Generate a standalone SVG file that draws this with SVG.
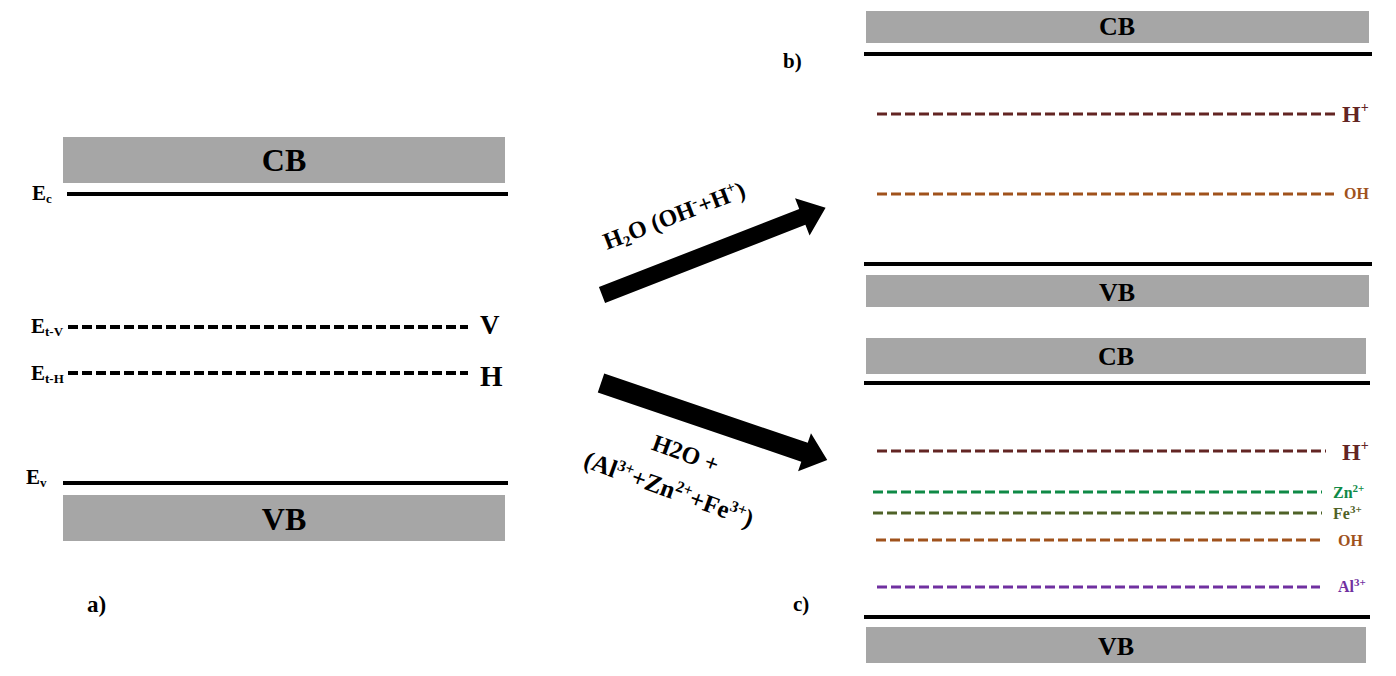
<svg xmlns="http://www.w3.org/2000/svg" width="1396" height="676" viewBox="0 0 1396 676" font-family="'Liberation Serif', serif">
<style>
text{font-family:'Liberation Serif',serif;font-weight:700;}
.band{fill:#a6a6a6;}
.edge{stroke:#000;stroke-width:4;}
.lvl{stroke-width:3;stroke-dasharray:10 4;fill:none;}
.blk{stroke:#000;stroke-width:4;}
.big{font-size:32px;text-anchor:middle;}
.mid{font-size:26px;text-anchor:middle;}
</style>
<rect width="1396" height="676" fill="#fff"/>
<g id="panel-a">
  <g id="a-cb"><rect class="band" x="63" y="137" width="442" height="46"/><text class="big" x="284" y="171">CB</text></g>
  <line class="edge" x1="67" y1="194" x2="508" y2="194"/>
  <text x="32" y="200" font-size="21">E<tspan font-size="13" dy="3">c</tspan></text>
  <g id="a-etv"><line class="lvl blk" x1="68" y1="327" x2="468" y2="327"/>
  <text x="31" y="333" font-size="21">E<tspan font-size="13" dy="3">t-V</tspan></text>
  <text x="480" y="334" font-size="27">V</text></g>
  <g id="a-eth"><line class="lvl blk" x1="68" y1="373" x2="468" y2="373"/>
  <text x="31" y="380" font-size="21">E<tspan font-size="13" dy="3">t-H</tspan></text>
  <text x="480" y="386" font-size="29">H</text></g>
  <line class="edge" x1="63" y1="483" x2="508" y2="483"/>
  <text x="26" y="484" font-size="21">E<tspan font-size="13" dy="3">v</tspan></text>
  <g id="a-vb"><rect class="band" x="63" y="495" width="442" height="46"/><text class="big" x="284" y="530">VB</text></g>
  <text x="87" y="612" font-size="23">a)</text>
</g>
<g id="connectors">
  <g id="arrow1" transform="translate(602,295) rotate(-21.3)">
    <polygon points="0,-8.5 215,-8.5 215,-20 240,0 215,20 215,8.5 0,8.5" fill="#000"/>
  </g>
  <text transform="translate(677,223) rotate(-21)" font-size="24" text-anchor="middle">H<tspan font-size="15" dy="4">2</tspan><tspan dy="-4">O (OH</tspan><tspan font-size="15" dy="-9">-</tspan><tspan dy="9">+H</tspan><tspan font-size="15" dy="-9">+</tspan><tspan dy="9">)</tspan></text>
  <g id="arrow2" transform="translate(601,383) rotate(18.8)">
    <polygon points="0,-10 215,-10 215,-20 239,0 215,20 215,10 0,10" fill="#000"/>
  </g>
  <text transform="translate(683,461) rotate(20)" font-size="24" text-anchor="middle">H2O +</text>
  <text transform="translate(666,497) rotate(20)" font-size="25" text-anchor="middle">(Al<tspan font-size="16" dy="-9">3+</tspan><tspan dy="9">+Zn</tspan><tspan font-size="16" dy="-9">2+</tspan><tspan dy="9">+Fe</tspan><tspan font-size="16" dy="-9">3+</tspan><tspan dy="9">)</tspan></text>
</g>
<g id="panel-b">
  <g id="b-cb"><rect class="band" x="866" y="11" width="503" height="32"/><text class="mid" x="1117" y="35">CB</text></g>
  <line class="edge" x1="864" y1="54" x2="1372" y2="54"/>
  <text x="783" y="68" font-size="21">b)</text>
  <g id="b-h"><line class="lvl" stroke="#632523" x1="877" y1="114" x2="1336" y2="114"/>
  <text x="1342" y="122" font-size="24" fill="#632523">H<tspan font-size="14" dy="-10">+</tspan></text></g>
  <g id="b-oh"><line class="lvl" stroke="#a0521c" x1="877" y1="194" x2="1334" y2="194"/>
  <text x="1344" y="199" font-size="16" fill="#a0521c">OH</text></g>
  <line class="edge" x1="864" y1="264" x2="1372" y2="264"/>
  <g id="b-vb"><rect class="band" x="866" y="275" width="503" height="32"/><text class="mid" x="1117" y="301">VB</text></g>
</g>
<g id="panel-c">
  <g id="c-cb"><rect class="band" x="866" y="338" width="500" height="36"/><text class="mid" x="1116" y="365">CB</text></g>
  <line class="edge" x1="864" y1="383" x2="1370" y2="383"/>
  <g id="c-h"><line class="lvl" stroke="#632523" x1="877" y1="451" x2="1326" y2="451"/>
  <text x="1342" y="460" font-size="24" fill="#632523">H<tspan font-size="14" dy="-10">+</tspan></text></g>
  <g id="c-zn"><line class="lvl" stroke="#0f8a46" x1="873" y1="492" x2="1322" y2="492"/>
  <text x="1333" y="498" font-size="16" fill="#0f8a46">Zn<tspan font-size="11" dy="-6">2+</tspan></text></g>
  <g id="c-fe"><line class="lvl" stroke="#4f6228" x1="873" y1="513" x2="1322" y2="513"/>
  <text x="1333" y="519" font-size="16" fill="#4f6228">Fe<tspan font-size="11" dy="-6">3+</tspan></text></g>
  <g id="c-oh"><line class="lvl" stroke="#a0521c" x1="876" y1="540" x2="1322" y2="540"/>
  <text x="1338" y="546" font-size="16" fill="#a0521c">OH</text></g>
  <g id="c-al"><line class="lvl" stroke="#7030a0" x1="877" y1="587" x2="1320" y2="587"/>
  <text x="1338" y="592" font-size="16" fill="#7030a0">Al<tspan font-size="11" dy="-6">3+</tspan></text></g>
  <text x="793" y="611" font-size="21">c)</text>
  <line class="edge" x1="864" y1="617" x2="1370" y2="617"/>
  <g id="c-vb"><rect class="band" x="866" y="627" width="500" height="36"/><text class="mid" x="1116" y="655">VB</text></g>
</g>
</svg>
